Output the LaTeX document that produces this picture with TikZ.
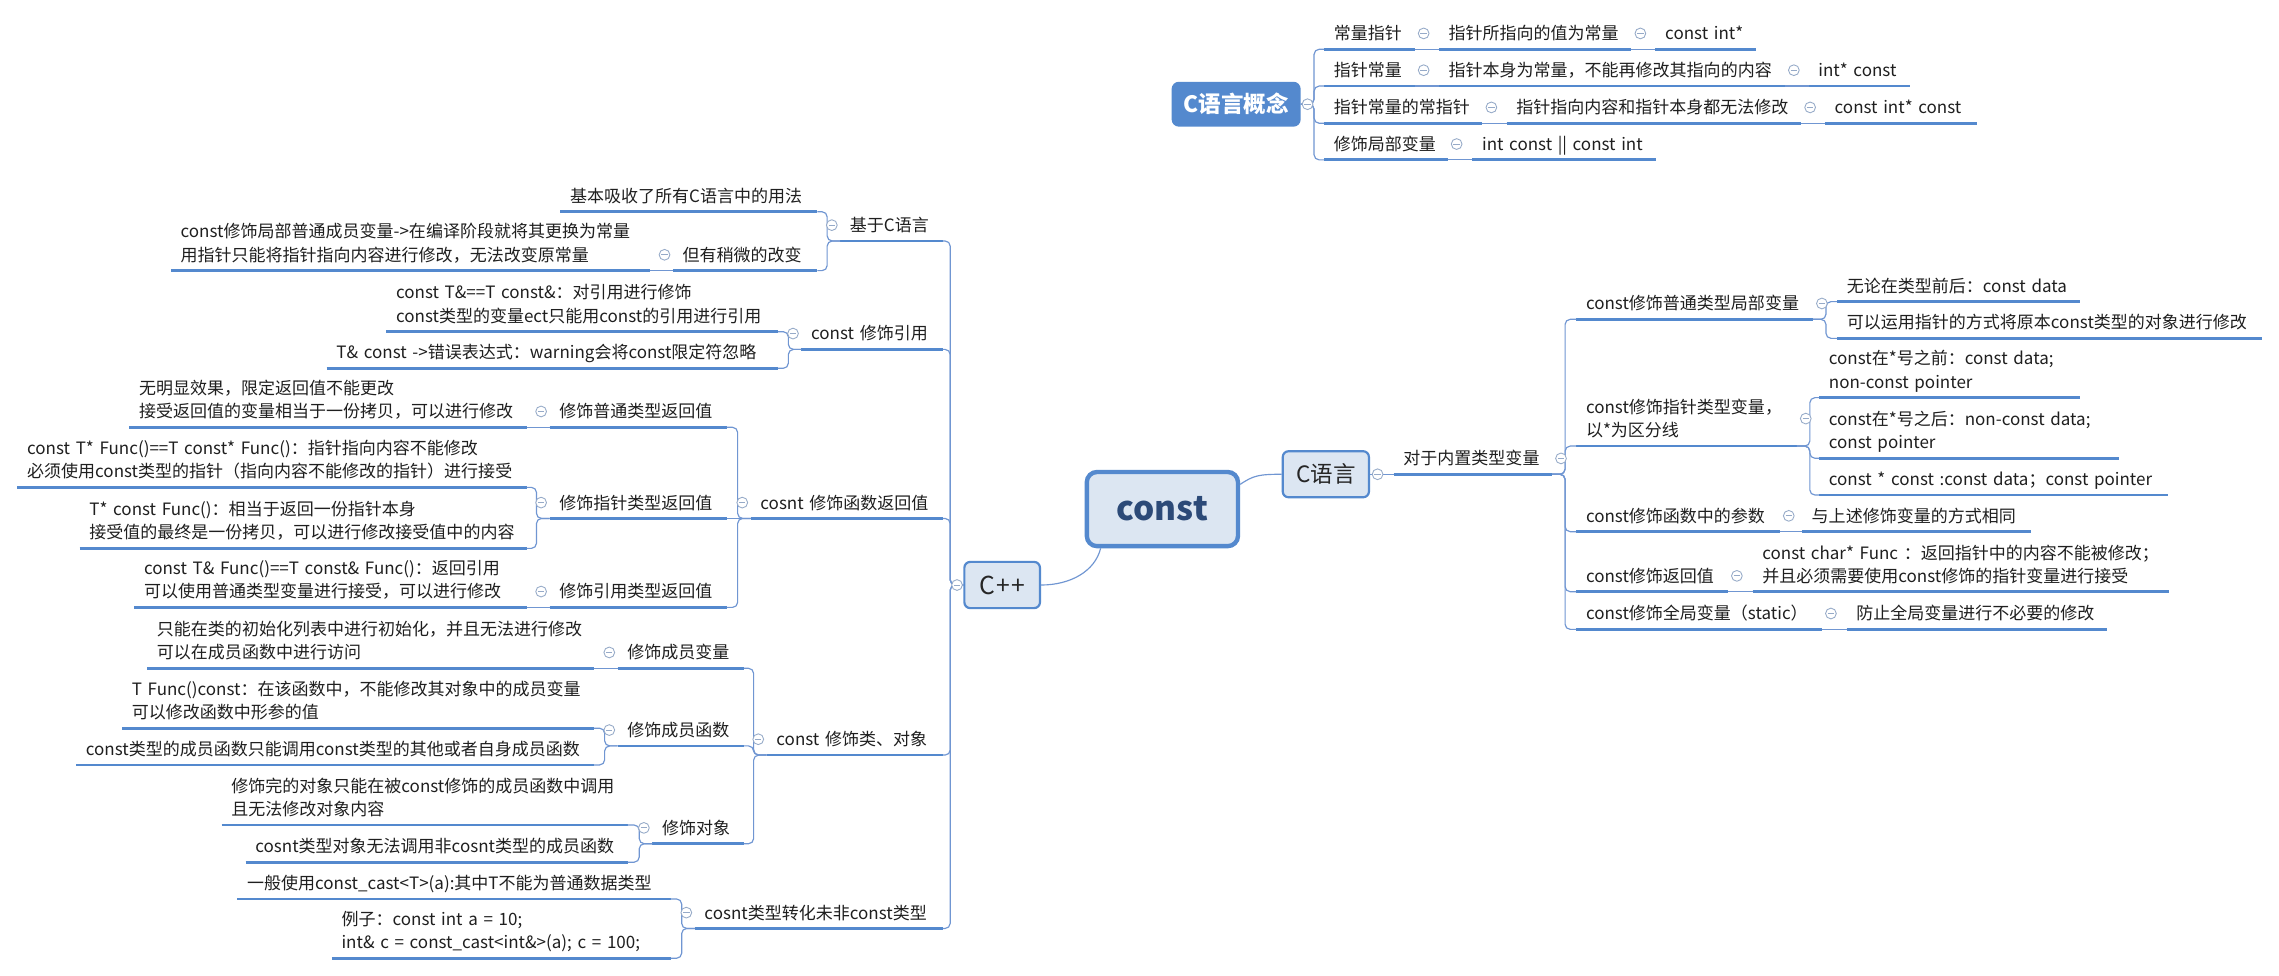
\documentclass[tikz,border=0pt]{standalone}
\usepackage{fontspec}
\setmainfont{Noto Sans CJK SC}
\usetikzlibrary{calc}
\definecolor{lineblue}{RGB}{84,137,206}
\definecolor{connblue}{RGB}{112,150,210}
\definecolor{boxfill}{RGB}{220,230,242}
\definecolor{foldgray}{RGB}{150,170,200}
\definecolor{navy}{RGB}{44,74,120}
\definecolor{conceptblue}{RGB}{84,137,206}
\tikzset{
  topic/.style={anchor=south west, inner xsep=6.5pt, inner ysep=1.5pt, align=left,
    font=\fontsize{11.7}{16}\selectfont, text=black!88,
    execute at begin node=\strut, execute at end node=\strut},
  uline/.style={draw=lineblue, line width=1.9pt},
  conn/.style={draw=connblue, line width=0.8pt, rounded corners=3.5pt},
  cbox/.style={draw=lineblue, fill=boxfill, line width=1.5pt, rounded corners=4pt, inner sep=0pt, text=black!85},
  fold/.style={circle, draw=foldgray, fill=white, line width=0.6pt, minimum size=7.4pt, inner sep=0pt,
    path picture={\draw[foldgray, line width=0.6pt] ($(path picture bounding box.center)+(-2.2,0)$) -- ($(path picture bounding box.center)+(2.2,0)$);}},
}
\newcommand\tpc[5]{%
  \pgfmathsetmacro\tpcw{#3-#2-13}%
  \node[topic, text width=\tpcw pt] (#1) at (#2,#4) {#5};
  \draw[uline] (#1.south west) -- (#1.south east);}
\newcommand\conR[2]{\draw[conn] (#1.south east) -- ++(9,0) |- (#2.south west);}
\newcommand\conL[2]{\draw[conn] (#1.south west) -- ++(-9,0) |- (#2.south east);}
\newcommand\conSR[2]{\draw[conn] (#1.south east) -- (#2.south west);}
\newcommand\conSL[2]{\draw[conn] (#1.south west) -- (#2.south east);}
\newcommand\foldR[1]{\node[fold] (f#1) at ($(#1.east)+(6.2,-1.2)$) {};}
\newcommand\foldL[1]{\node[fold] (f#1) at ($(#1.west)+(-5.8,-1.2)$) {};}
\begin{document}
\begin{tikzpicture}[x=1pt,y=-1pt]
\fill[white] (0,0) rectangle (1568,671.5);
\useasboundingbox (0,0) rectangle (1568,671.5);

% ---- central boxes
\node[cbox, line width=3pt, rounded corners=7pt, minimum width=104pt, minimum height=51pt,
  font=\fontsize{23}{26}\selectfont\bfseries, text=navy] (cst) at (799.75,350.25) {const};
\node[cbox, minimum width=59.3pt, minimum height=31.7pt, font=\fontsize{15.5}{18}\selectfont] (cl) at (912.2,326.3) {C语言};
\node[cbox, minimum width=52pt, minimum height=31.8pt, font=\fontsize{17}{20}\selectfont] (cpp) at (689.5,402.5) {C\kern1pt+\kern1pt+};
\node[fill=conceptblue, rounded corners=5pt, minimum width=88.8pt, minimum height=30.9pt, inner sep=0pt,
  text=white, font=\fontsize{15.5}{18}\selectfont\bfseries] (concept) at (850.5,71.7) {C语言概念};

% ---- top cluster
\tpc{T1a}{911}{972.9}{33.9}{常量指针}
\tpc{T1b}{990}{1122}{33.9}{指针所指向的值为常量}
\tpc{T1c}{1139}{1208}{33.9}{const int*}
\tpc{T2a}{911}{972.9}{59.2}{指针常量}
\tpc{T2b}{990}{1227.6}{59.2}{指针本身为常量，不能再修改其指向的内容}
\tpc{T2c}{1244.4}{1313.4}{59.2}{int* const}
\tpc{T3a}{911}{1019.5}{84.8}{指针常量的常指针}
\tpc{T3b}{1036.6}{1238.8}{84.8}{指针指向内容和指针本身都无法修改}
\tpc{T3c}{1255.6}{1360}{84.8}{const int* const}
\tpc{T4a}{911}{995.6}{110}{修饰局部变量}
\tpc{T4b}{1013}{1139}{110}{int const || const int}

% ---- right side (C language)
\tpc{R0}{958.9}{1067.4}{326.3}{对于内置类型变量}
\tpc{R1}{1084.5}{1246.9}{219.7}{const修饰普通类型局部变量}
\tpc{R1a}{1264}{1431}{207.5}{无论在类型前后：const data}
\tpc{R1b}{1264}{1556}{232.8}{可以运用指针的方式将原本const类型的对象进行修改}
\tpc{R2}{1084.5}{1235.8}{306.9}{const修饰指针类型变量，\\以*为区分线}
\tpc{R2a}{1251.6}{1431}{273.6}{const在*号之前：const data;\\non-const pointer}
\tpc{R2b}{1251.6}{1457.6}{315.3}{const在*号之后：non-const data;\\const pointer}
\tpc{R2c}{1251.6}{1491.5}{340.6}{const * const :const data；const pointer}
\tpc{R3}{1084.5}{1224.1}{365.8}{const修饰函数中的参数}
\tpc{R3a}{1239.8}{1396.7}{365.8}{与上述修饰变量的方式相同}
\tpc{R4}{1084.5}{1188.4}{407.1}{const修饰返回值}
\tpc{R4a}{1205.8}{1492}{407.1}{const char* Func ：返回指针中的内容不能被修改；\\并且必须需要使用const修饰的指针变量进行接受}
\tpc{R5}{1084.5}{1253.1}{433}{const修饰全局变量（static）}
\tpc{R5a}{1270.5}{1449.3}{433}{防止全局变量进行不必要的修改}

% ---- left side (C++)
\tpc{L1}{578.1}{648.3}{165.8}{基于C语言}
\tpc{L1a}{385.6}{562}{145.7}{基本吸收了所有C语言中的用法}
\tpc{L1b}{463}{562}{186.2}{但有稍微的改变}
\tpc{L1b1}{117.6}{446.8}{186.2}{const修饰局部普通成员变量->在编译阶段就将其更换为常量\\用指针只能将指针指向内容进行修改，无法改变原常量}
\tpc{L2}{551.4}{648.3}{240.4}{const 修饰引用}
\tpc{L2a}{265.8}{535}{228.2}{const T\&==T const\&：对引用进行修饰\\const类型的变量ect只能用const的引用进行引用}
\tpc{L2b}{224.8}{535}{253.4}{T\& const ->错误表达式：warning会将const限定符忽略}
\tpc{L3}{516.5}{648.3}{356.7}{cosnt 修饰函数返回值}
\tpc{L3a}{378.1}{499.6}{294}{修饰普通类型返回值}
\tpc{L3a1}{89}{362}{294}{无明显效果，限定返回值不能更改\\接受返回值的变量相当于一份拷贝，可以进行修改}
\tpc{L3b}{378.1}{499.6}{356.7}{修饰指针类型返回值}
\tpc{L3b1}{12}{362}{335.3}{const T* Func()==T const* Func()：指针指向内容不能修改\\必须使用const类型的指针（指向内容不能修改的指针）进行接受}
\tpc{L3b2}{54.8}{362}{377.3}{T* const Func()：相当于返回一份指针本身\\接受值的最终是一份拷贝，可以进行修改接受值中的内容}
\tpc{L3c}{378.1}{499.6}{417.9}{修饰引用类型返回值}
\tpc{L3c1}{92.4}{362}{417.9}{const T\& Func()==T const\& Func()：返回引用\\可以使用普通类型变量进行接受，可以进行修改}
\tpc{L4}{527.5}{648.3}{519.5}{const 修饰类、对象}
\tpc{L4a}{425}{511.4}{459.8}{修饰成员变量}
\tpc{L4a1}{101.3}{408.4}{459.8}{只能在类的初始化列表中进行初始化，并且无法进行修改\\可以在成员函数中进行访问}
\tpc{L4b}{425}{511.4}{513.2}{修饰成员函数}
\tpc{L4b1}{84}{408.4}{501}{T Func()const：在该函数中，不能修改其对象中的成员变量\\可以修改函数中形参的值}
\tpc{L4b2}{52.4}{408.4}{526.3}{const类型的成员函数只能调用const类型的其他或者自身成员函数}
\tpc{L4c}{448.8}{511.4}{580.5}{修饰对象}
\tpc{L4c1}{152.5}{431.4}{567.6}{修饰完的对象只能在被const修饰的成员函数中调用\\且无法修改对象内容}
\tpc{L4c2}{169}{431.4}{593.2}{cosnt类型对象无法调用非cosnt类型的成员函数}
\tpc{L5}{478}{648.3}{638.8}{cosnt类型转化未非const类型}
\tpc{L5a}{163.3}{461}{618.5}{一般使用const\_cast<T>(a):其中T不能为普通数据类型}
\tpc{L5b}{228.3}{461}{659.3}{例子：const int a = 10;\\int\& c = const\_cast<int\&>(a); c = 100;}

% ---- connectors
\draw[conn] ($(cst.north east)+(0,10)$) .. controls +(9,-6) and +(-16,0) .. (cl.west);
\draw[conn] ($(cst.south west)+(11,0)$) .. controls +(-4,16) and +(20,0) .. (cpp.east);
\draw[conn] (cl.east) -- (R0.south west);
\foreach \t in {T1a,T2a,T3a,T4a}{\draw[conn] (concept.east) -- ++(9,0) |- (\t.south west);}
\conSR{T1a}{T1b}\conSR{T1b}{T1c}
\conSR{T2a}{T2b}\conSR{T2b}{T2c}
\conSR{T3a}{T3b}\conSR{T3b}{T3c}
\conSR{T4a}{T4b}
\foreach \t in {R1,R2,R3,R4,R5}{\conR{R0}{\t}}
\conR{R1}{R1a}\conR{R1}{R1b}
\conR{R2}{R2a}\conR{R2}{R2b}\conR{R2}{R2c}
\conSR{R3}{R3a}\conSR{R4}{R4a}\conSR{R5}{R5a}
\foreach \t in {L1,L2,L3,L4,L5}{\draw[conn] (cpp.west) -- ++(-9,0) |- (\t.south east);}
\conL{L1}{L1a}\conL{L1}{L1b}\conSL{L1b}{L1b1}
\conL{L2}{L2a}\conL{L2}{L2b}
\conL{L3}{L3a}\conSL{L3}{L3b}\conL{L3}{L3c}
\conSL{L3a}{L3a1}\conL{L3b}{L3b1}\conL{L3b}{L3b2}\conSL{L3c}{L3c1}
\conL{L4}{L4a}\conL{L4}{L4b}\conL{L4}{L4c}
\conSL{L4a}{L4a1}\conL{L4b}{L4b1}\conL{L4b}{L4b2}\conL{L4c}{L4c1}\conL{L4c}{L4c2}
\conL{L5}{L5a}\conL{L5}{L5b}

% ---- fold markers
\node[fold] (fconcept) at ($(concept.east)+(4.5,0)$) {};
\node[fold] (fcl) at ($(cl.east)+(5.2,0)$) {};
\node[fold] (fcpp) at ($(cpp.west)+(-4.3,0)$) {};
\foldR{T1a}\foldR{T1b}\foldR{T2a}\foldR{T2b}\foldR{T3a}\foldR{T3b}\foldR{T4a}
\foldR{R0}\foldR{R1}\foldR{R2}\foldR{R3}\foldR{R4}\foldR{R5}
\foldL{L1}\foldL{L1b}\foldL{L2}\foldL{L3}\foldL{L3a}\foldL{L3b}\foldL{L3c}
\foldL{L4}\foldL{L4a}\foldL{L4b}\foldL{L4c}\foldL{L5}
\end{tikzpicture}
\end{document}
